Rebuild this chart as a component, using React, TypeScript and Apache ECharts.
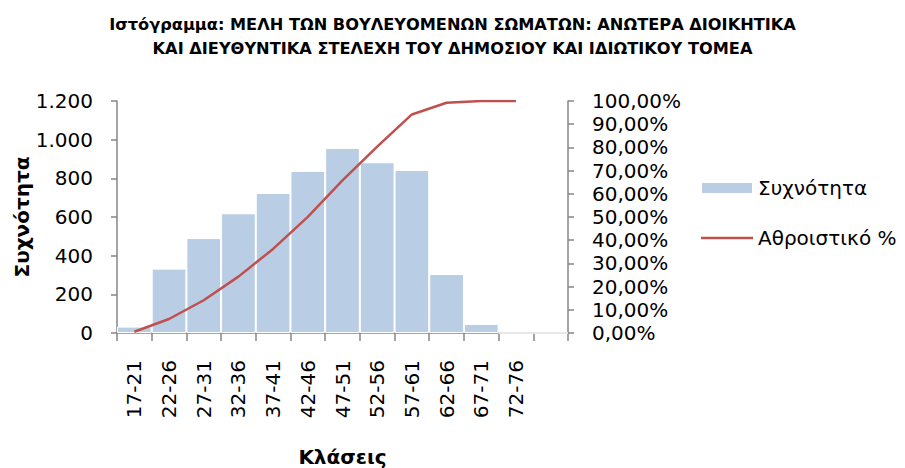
import React, { useEffect, useRef } from "react";
import * as echarts from "echarts";

const categories = ["17-21", "22-26", "27-31", "32-36", "37-41", "42-46", "47-51", "52-56", "57-61", "62-66", "67-71", "72-76", ""];
const frequency = [33, 333, 491, 619, 724, 838, 957, 883, 843, 305, 47, 0, 0];
const cumulativePct: (number | null)[] = [0.54, 6.03, 14.11, 24.3, 36.23, 50.02, 65.78, 80.32, 94.2, 99.23, 100, 100, null];
const titleLines = [
  "Ιστόγραμμα: ΜΕΛΗ ΤΩΝ ΒΟΥΛΕΥΟΜΕΝΩΝ ΣΩΜΑΤΩΝ: ΑΝΩΤΕΡΑ ΔΙΟΙΚΗΤΙΚΑ",
  "ΚΑΙ ΔΙΕΥΘΥΝΤΙΚΑ ΣΤΕΛΕΧΗ ΤΟΥ ΔΗΜΟΣΙΟΥ ΚΑΙ ΙΔΙΩΤΙΚΟΥ ΤΟΜΕΑ",
];
const seriesNames = ["Συχνότητα", "Αθροιστικό %"];
const xName = "Κλάσεις";
const yName = "Συχνότητα";

const FONT = "DejaVu Sans";
const AXIS = "#868686";
const LINE_COLOR = "#C0504D";

export default function App() {
  const ref = useRef<HTMLDivElement>(null);
  useEffect(() => {
    document.body.style.margin = "0";
    const chart = echarts.init(ref.current!, null, { renderer: "svg" });
    chart.setOption({
      animation: false,
      textStyle: { fontFamily: FONT, color: "#000" },
      title: {
        text: titleLines.join("\n"),
        left: "center",
        top: 12,
        padding: 0,
        textStyle: { fontFamily: FONT, fontSize: 16.2, fontWeight: "bold", color: "#000", lineHeight: 24 },
      },
      legend: {
        orient: "vertical",
        left: 700,
        top: 178,
        padding: 0,
        itemWidth: 52,
        itemHeight: 12,
        itemGap: 30,
        textStyle: { fontFamily: FONT, fontSize: 20, color: "#000" },
        data: [
          { name: seriesNames[0], icon: "rect" },
          { name: seriesNames[1], icon: "path://M0,0 L52,0 L52,2.5 L0,2.5 Z", itemStyle: { color: LINE_COLOR } },
        ],
      },
      grid: { left: 117, right: 337, top: 101, bottom: 135, outerBoundsMode: "none", containLabel: false },
      xAxis: {
        type: "category",
        data: categories,
        name: xName,
        nameLocation: "middle",
        nameGap: 114,
        nameTextStyle: { fontFamily: FONT, fontSize: 20, fontWeight: "bold", color: "#000" },
        axisLine: { lineStyle: { color: AXIS, width: 1.5 } },
        axisTick: { show: true, length: 8, lineStyle: { color: AXIS, width: 1.5 } },
        axisLabel: { rotate: 90, interval: 0, margin: 27, fontFamily: FONT, fontSize: 20, color: "#000" },
      },
      yAxis: [
        {
          type: "value",
          min: 0,
          max: 1200,
          interval: 200,
          name: yName,
          nameLocation: "middle",
          nameGap: 80,
          nameTextStyle: { fontFamily: FONT, fontSize: 20, fontWeight: "bold", color: "#000" },
          axisLine: { show: true, lineStyle: { color: AXIS, width: 1.5 } },
          axisTick: { show: true, length: 6, lineStyle: { color: AXIS, width: 1.5 } },
          splitLine: { show: false },
          axisLabel: {
            margin: 24,
            fontFamily: FONT,
            fontSize: 20,
            color: "#000",
            formatter: (v: number) => String(v).replace(/\B(?=(\d{3})+(?!\d))/g, "."),
          },
        },
        {
          type: "value",
          min: 0,
          max: 100,
          interval: 10,
          position: "right",
          axisLine: { show: true, lineStyle: { color: AXIS, width: 1.5 } },
          axisTick: { show: true, length: 6, lineStyle: { color: AXIS, width: 1.5 } },
          splitLine: { show: false },
          axisLabel: {
            margin: 24,
            fontFamily: FONT,
            fontSize: 20,
            color: "#000",
            formatter: (v: number) => v.toFixed(2).replace(".", ",") + "%",
          },
        },
      ],
      series: [
        {
          name: seriesNames[0],
          type: "bar",
          data: frequency,
          barCategoryGap: 0,
          itemStyle: { color: "#B9CDE5", borderColor: "#fff", borderWidth: 1 },
        },
        {
          name: seriesNames[1],
          type: "line",
          yAxisIndex: 1,
          data: cumulativePct,
          symbol: "none",
          lineStyle: { color: LINE_COLOR, width: 2.5 },
          itemStyle: { color: LINE_COLOR },
        },
      ],
    });
    return () => chart.dispose();
  }, []);
  return <div ref={ref} style={{ width: 905, height: 468 }} />;
}
